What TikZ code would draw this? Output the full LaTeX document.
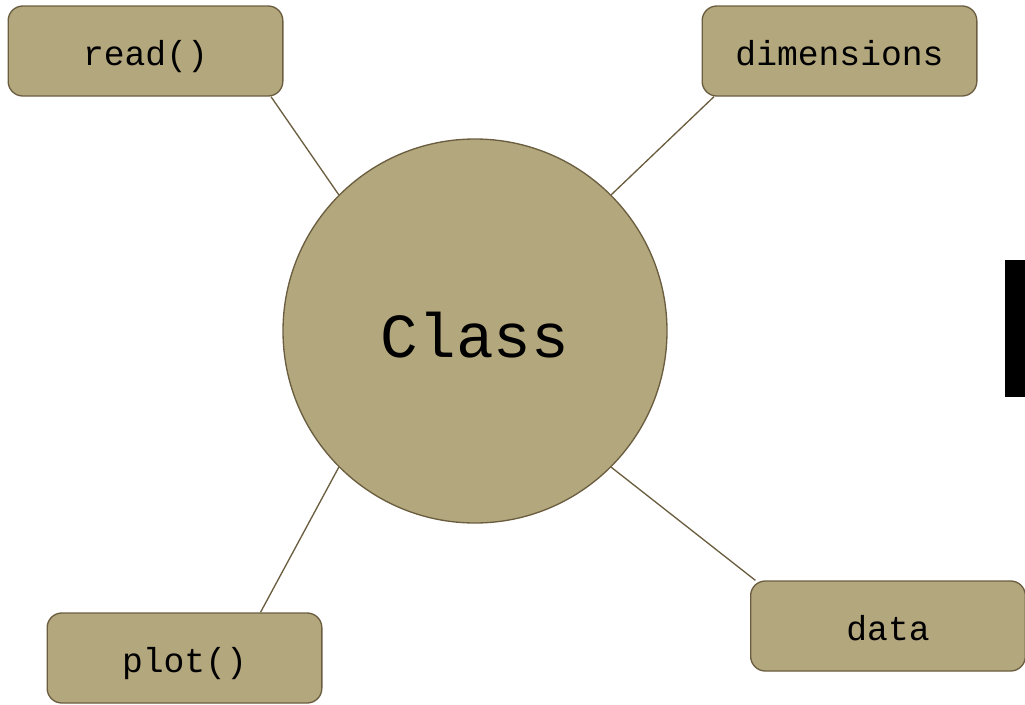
\documentclass[tikz,border=0pt]{standalone}
\usepackage{fontspec}
\setmonofont{Liberation Mono}
\usetikzlibrary{positioning}
\definecolor{khaki}{HTML}{B3A77D}
\definecolor{khakiline}{HTML}{6B5E40}
\tikzset{
    method/.style={draw=khakiline, fill=khaki, line width=1pt, rounded corners=11pt,
        minimum width=206pt, minimum height=67.5pt, inner sep=0pt,
        text height=21pt, text depth=0pt,
        font=\ttfamily\fontsize{26}{30}\selectfont},
    link/.style={draw=khakiline, line width=1pt}
}

\begin{document}
\begin{tikzpicture}[x=0.75pt, y=-0.75pt]
    \useasboundingbox (0,0) rectangle (1025,704);

    % the class in the middle
    \node[circle, draw=khakiline, fill=khaki, line width=1pt, minimum size=288pt,
        inner sep=0pt, text height=39pt, text depth=0pt,
        font=\ttfamily\fontsize{47}{52}\selectfont] (cls) at (475,331) {Class};

    % members round it
    \node[method] (read) at (145.5,51) {read()};
    \node[method] (dims) at (839.5,51) {dimensions};
    \node[method] (plot) at (184.5,658) {plot()};
    \node[method] (data) at (888,626) {data};

    \draw[link] (read.-20) -- (cls.135);
    \draw[link] (dims.200) -- (cls.45);
    \draw[link] (plot.31) -- (cls.225);
    \draw[link] (data.161) -- (cls.315);

    % bar at the right edge
    \fill[black] (1005,260) rectangle (1025,397);
\end{tikzpicture}
\end{document}
